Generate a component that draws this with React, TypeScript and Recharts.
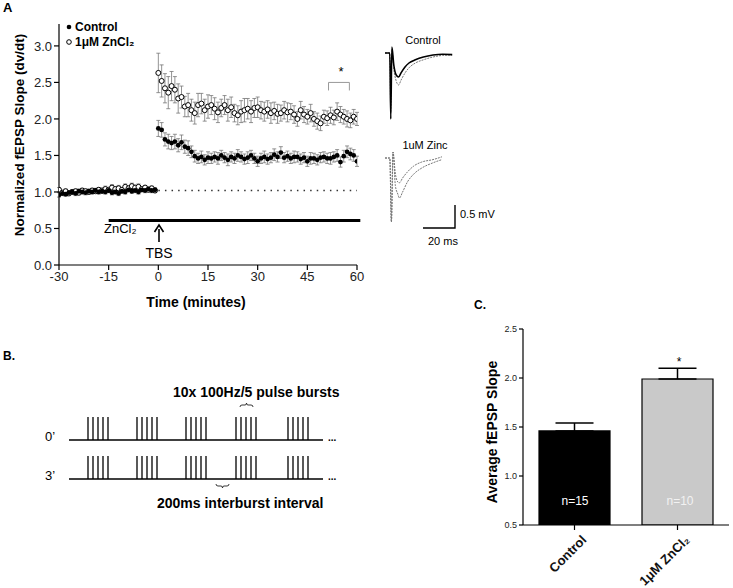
import {
  ScatterChart,
  Scatter,
  XAxis,
  YAxis,
  ErrorBar,
  ReferenceLine,
  LineChart,
  Line,
  BarChart,
  Bar,
  Cell,
} from "recharts";

const FONT = "'Liberation Sans', Arial, sans-serif";

// time in minutes, one sample per minute
const TIME = Array.from({ length: 91 }, (_, i) => i - 30);

const CTRL_MEAN = [
  0.96, 0.98, 0.97, 0.99, 1.0, 0.98, 1.01, 1.0, 0.99, 1.01,
  1.0, 1.02, 1.0, 1.01, 1.0, 1.02, 0.99, 1.0, 0.98, 1.01,
  1.0, 1.03, 1.01, 1.02, 1.0, 1.03, 1.02, 1.04, 1.02, 1.03,
  1.87, 1.85, 1.72, 1.69, 1.67, 1.69, 1.64, 1.68, 1.62, 1.6,
  1.55, 1.49, 1.46, 1.48, 1.44, 1.47, 1.46, 1.48, 1.46, 1.5,
  1.47, 1.44, 1.48, 1.46, 1.5, 1.48, 1.45, 1.47, 1.5, 1.46,
  1.42, 1.46, 1.48, 1.45, 1.47, 1.51, 1.48, 1.54, 1.47, 1.49,
  1.46, 1.48, 1.48, 1.45, 1.47, 1.42, 1.46, 1.46, 1.44, 1.47,
  1.48, 1.46, 1.46, 1.48, 1.5, 1.41, 1.49, 1.55, 1.52, 1.5,
  1.42,
];

const CTRL_ERR = [
  0.03, 0.03, 0.03, 0.03, 0.03, 0.03, 0.03, 0.03, 0.03, 0.03,
  0.03, 0.03, 0.03, 0.03, 0.03, 0.03, 0.03, 0.03, 0.03, 0.03,
  0.03, 0.03, 0.03, 0.03, 0.03, 0.03, 0.03, 0.03, 0.03, 0.03,
  0.11, 0.1, 0.09, 0.1, 0.09, 0.1, 0.09, 0.1, 0.09, 0.1,
  0.08, 0.08, 0.07, 0.08, 0.07, 0.08, 0.07, 0.07, 0.08, 0.07,
  0.07, 0.08, 0.07, 0.07, 0.08, 0.07, 0.07, 0.08, 0.07, 0.07,
  0.07, 0.07, 0.08, 0.07, 0.07, 0.08, 0.07, 0.08, 0.07, 0.07,
  0.07, 0.08, 0.07, 0.07, 0.07, 0.07, 0.08, 0.07, 0.07, 0.07,
  0.07, 0.07, 0.08, 0.07, 0.08, 0.07, 0.08, 0.08, 0.08, 0.08,
  0.07,
];

const ZN_MEAN = [
  1.03, 0.99, 1.01, 0.98, 1.0, 1.01, 0.99, 1.02, 1.01, 1.0,
  1.02, 1.01, 1.03, 1.02, 1.04, 1.03, 1.06, 1.04, 1.05, 1.03,
  1.07, 1.05, 1.08, 1.06, 1.07, 1.04, 1.06, 1.03, 1.05, 1.02,
  2.63, 2.52, 2.42, 2.36, 2.45, 2.4, 2.28, 2.3, 2.17, 2.19,
  2.12, 2.08, 2.19, 2.21, 2.12, 2.17, 2.19, 2.14, 2.09, 2.15,
  2.19, 2.12, 2.16, 2.08, 2.05, 2.1, 2.12, 2.14, 2.1, 2.15,
  2.16, 2.12, 2.1, 2.13, 2.08, 2.11, 2.07, 2.08, 2.12, 2.09,
  2.1, 2.06, 2.0, 2.12, 2.06, 2.03, 2.08, 2.0, 1.97, 1.94,
  2.03, 2.01, 2.05, 2.02, 2.1, 2.06, 2.03, 2.0, 1.98, 2.03,
  2.0,
];

const ZN_ERR = [
  0.03, 0.03, 0.03, 0.03, 0.03, 0.03, 0.03, 0.03, 0.03, 0.03,
  0.03, 0.03, 0.03, 0.03, 0.04, 0.03, 0.04, 0.03, 0.04, 0.03,
  0.04, 0.03, 0.04, 0.03, 0.04, 0.03, 0.03, 0.03, 0.03, 0.03,
  0.27, 0.22, 0.2, 0.22, 0.2, 0.18, 0.2, 0.15, 0.14, 0.16,
  0.15, 0.15, 0.16, 0.14, 0.15, 0.16, 0.13, 0.15, 0.14, 0.12,
  0.13, 0.15, 0.14, 0.12, 0.13, 0.15, 0.16, 0.14, 0.15, 0.13,
  0.14, 0.12, 0.13, 0.12, 0.14, 0.12, 0.13, 0.11, 0.12, 0.13,
  0.11, 0.12, 0.1, 0.12, 0.11, 0.1, 0.12, 0.1, 0.11, 0.1,
  0.09, 0.1, 0.11, 0.1, 0.12, 0.11, 0.1, 0.11, 0.1, 0.1,
  0.09,
];

const X_TICKS = [-30, -15, 0, 15, 30, 45, 60];
const Y_TICKS = [0, 0.5, 1.0, 1.5, 2.0, 2.5, 3.0];

// example traces (ms, mV)
const CTRL_TRACE_T = [0, 3, 3.6, 4.3, 5.5, 7, 8.5, 10, 12.5, 15, 19, 24, 30, 36, 42];
const CTRL_TRACE_BEFORE = [0, 0, -1.65, 0.15, -0.3, -0.55, -0.6, -0.5, -0.35, -0.25, -0.17, -0.1, -0.05, -0.03, -0.04];
const CTRL_TRACE_AFTER = [0, 0, -1.5, 0.1, -0.4, -0.7, -0.8, -0.68, -0.5, -0.37, -0.25, -0.17, -0.1, -0.06, -0.05];

const ZN_TRACE_T = [0, 3, 4, 5, 6.5, 8, 9, 11, 14, 18, 23, 30, 35.6];
const ZN_TRACE_BEFORE = [0, 0, -1.6, 0.15, -0.4, -0.6, -0.62, -0.5, -0.35, -0.2, -0.1, -0.04, 0.03];
const ZN_TRACE_AFTER = [0, 0, -1.6, 0.15, -0.7, -0.9, -1.0, -0.85, -0.6, -0.4, -0.25, -0.12, -0.04];

// panel C
const BAR_GROUPS = ["Control", "1μM ZnCl₂"];
const BAR_MEAN = [1.46, 1.99];
const BAR_SEM = [0.08, 0.11];
const BAR_N = ["n=15", "n=10"];
const BAR_FILL = ["#000000", "#c9c9c9"];
const BAR_TEXT = ["#ffffff", "#f2f2f2"];

// panel B
const BURST_X = [88, 137, 186, 236, 288];
const PULSE_GAP = 5;

const ctrlData = TIME.map((t, i) => ({ t, v: CTRL_MEAN[i], e: CTRL_ERR[i] }));
const znData = TIME.map((t, i) => ({ t, v: ZN_MEAN[i], e: ZN_ERR[i] }));
const ctrlTrace = CTRL_TRACE_T.map((t, i) => ({ t, a: CTRL_TRACE_BEFORE[i], b: CTRL_TRACE_AFTER[i] }));
const znTrace = ZN_TRACE_T.map((t, i) => ({ t, a: ZN_TRACE_BEFORE[i], b: ZN_TRACE_AFTER[i] }));
const barData = BAR_GROUPS.map((g, i) => ({ g, v: BAR_MEAN[i], err: [0, BAR_SEM[i]] }));

const OpenDot = (p: any) => (
  <circle cx={p.cx} cy={p.cy} r={2.5} fill="#fff" stroke="#000" strokeWidth={1} />
);
const FilledDot = (p: any) => <circle cx={p.cx} cy={p.cy} r={2.4} fill="#000" />;

const RotTick = ({ x, y, payload }: any) => {
  const ax = x + 6;
  const ay = y + 2;
  const txt = payload.value as string;
  return (
    <text
      x={ax}
      y={ay}
      transform={`rotate(-45 ${ax} ${ay})`}
      textAnchor="end"
      dominantBaseline="hanging"
      fontFamily={FONT}
      fontWeight="bold"
      fontSize={13}
      fill="#111"
    >
      {txt}
    </text>
  );
};

const Trace = ({ data, top, solidFirst }: { data: any[]; top: number; solidFirst: boolean }) => (
  <div style={{ position: "absolute", left: 385, top }}>
    <LineChart width={72} height={100} data={data} margin={{ top: 0, right: 0, bottom: 0, left: 0 }}>
      <XAxis dataKey="t" type="number" domain={[0, 45]} hide />
      <YAxis type="number" domain={[-2, 0.5]} hide />
      <Line
        dataKey="b"
        type="monotone"
        stroke="#777"
        strokeWidth={1}
        strokeDasharray="2 1"
        dot={false}
        isAnimationActive={false}
      />
      <Line
        dataKey="a"
        type="monotone"
        stroke={solidFirst ? "#000" : "#777"}
        strokeWidth={solidFirst ? 1.6 : 1}
        strokeDasharray={solidFirst ? undefined : "2 1"}
        dot={false}
        isAnimationActive={false}
      />
    </LineChart>
  </div>
);

const Brace = ({ x, y, w, down }: { x: number; y: number; w: number; down?: boolean }) => {
  const s = down ? 1 : -1;
  const m = x + w / 2;
  return (
    <path
      d={`M${x},${y} q0,${s * 2} 2,${s * 2} H${m - 1.5} q1.5,0 1.5,${s * 2} q0,${-s * 2} 1.5,${-s * 2} H${x + w - 2} q2,0 2,${-s * 2}`}
      fill="none"
      stroke="#222"
      strokeWidth={0.9}
    />
  );
};

export default function App() {
  const tickStyle = { fontFamily: FONT, fontSize: 13, fill: "#222" };
  return (
    <div style={{ position: "absolute", left: 0, top: 0, width: 733, height: 588, background: "#fff" }}>
      {/* Panel A time course */}
      <div style={{ position: "absolute", left: 0, top: 0 }}>
        <ScatterChart width={380} height={310} margin={{ top: 24, right: 23, bottom: 15, left: 29 }}>
          <XAxis
            dataKey="t"
            type="number"
            domain={[-30, 60]}
            ticks={X_TICKS}
            tick={tickStyle}
            tickSize={5}
            height={30}
            stroke="#000"
            strokeWidth={1.2}
            allowDataOverflow
          />
          <YAxis
            dataKey="v"
            type="number"
            domain={[0, 3.3]}
            ticks={Y_TICKS}
            tickFormatter={(v: number) => v.toFixed(1)}
            tick={tickStyle}
            tickSize={5}
            width={30}
            stroke="#000"
            strokeWidth={1.2}
            allowDataOverflow
          />
          <ReferenceLine
            segment={[{ x: 0, y: 1.02 }, { x: 60, y: 1.02 }]}
            stroke="#333"
            strokeWidth={1.6}
            strokeDasharray="1.5 5.1"
          />
          <ReferenceLine
            segment={[{ x: -15, y: 0.61 }, { x: 61, y: 0.61 }]}
            stroke="#000"
            strokeWidth={3}
            ifOverflow="visible"
          />
          <ReferenceLine segment={[{ x: 51.4, y: 2.39 }, { x: 51.4, y: 2.5 }]} stroke="#999" strokeWidth={1} />
          <ReferenceLine segment={[{ x: 51.4, y: 2.5 }, { x: 57.7, y: 2.5 }]} stroke="#999" strokeWidth={1} />
          <ReferenceLine segment={[{ x: 57.7, y: 2.5 }, { x: 57.7, y: 2.39 }]} stroke="#999" strokeWidth={1} />
          <Scatter data={znData} shape={OpenDot} isAnimationActive={false}>
            <ErrorBar dataKey="e" direction="y" width={2} stroke="#777" strokeWidth={0.8} isAnimationActive={false} />
          </Scatter>
          <Scatter data={ctrlData} shape={FilledDot} isAnimationActive={false}>
            <ErrorBar dataKey="e" direction="y" width={2} stroke="#777" strokeWidth={0.8} isAnimationActive={false} />
          </Scatter>
        </ScatterChart>
      </div>

      {/* Example traces */}
      <Trace data={ctrlTrace} top={33} solidFirst />
      <Trace data={znTrace} top={138} solidFirst={false} />

      {/* Panel C bar chart */}
      <div style={{ position: "absolute", left: 460, top: 280 }}>
        <BarChart
          width={273}
          height={308}
          data={barData}
          margin={{ top: 49, right: 4, bottom: 3, left: 33 }}
          barCategoryGap={16}
        >
          <XAxis
            dataKey="g"
            tick={<RotTick />}
            tickSize={5}
            height={60}
            stroke="#000"
            strokeWidth={1.2}
            interval={0}
          />
          <YAxis
            type="number"
            domain={[0.5, 2.5]}
            ticks={[0.5, 1.0, 1.5, 2.0, 2.5]}
            tickFormatter={(v: number) => v.toFixed(1)}
            tick={{ fontFamily: FONT, fontSize: 9, fill: "#222" }}
            tickSize={4}
            width={30}
            stroke="#000"
            strokeWidth={1.2}
            allowDataOverflow
          />
          <Bar dataKey="v" stroke="#000" strokeWidth={1.2} isAnimationActive={false}>
            {barData.map((_, i) => (
              <Cell key={i} fill={BAR_FILL[i]} />
            ))}
            <ErrorBar dataKey="err" direction="y" width={19} stroke="#000" strokeWidth={1.5} isAnimationActive={false} />
          </Bar>
        </BarChart>
      </div>

      {/* Texts and schematic */}
      <svg
        width={733}
        height={588}
        style={{ position: "absolute", left: 0, top: 0, pointerEvents: "none" }}
        fontFamily={FONT}
      >
        {/* Panel A */}
        <text x={3} y={12} fontSize={13} fontWeight="bold">A</text>
        <circle cx={69} cy={27} r={2.3} fill="#000" />
        <text x={75} y={31} fontSize={12} fontWeight="bold">Control</text>
        <circle cx={69} cy={42} r={2.3} fill="#fff" stroke="#000" strokeWidth={1} />
        <text x={75} y={46} fontSize={12} fontWeight="bold">1μM ZnCl₂</text>
        <text
          x={19}
          y={135}
          transform="rotate(-90 19 135)"
          textAnchor="middle"
          dominantBaseline="central"
          fontSize={13.5}
          fontWeight="bold"
        >
          Normalized fEPSP Slope (dv/dt)
        </text>
        <text x={196} y={307} textAnchor="middle" fontSize={14} fontWeight="bold">
          Time (minutes)
        </text>
        <text x={341} y={76} textAnchor="middle" fontSize={13}>*</text>
        <text x={104} y={233} fontSize={13}>ZnCl₂</text>
        <line x1={159} y1={242} x2={159} y2={229} stroke="#000" strokeWidth={1.6} />
        <path d="M154.5,232 L159,225 L163.5,232" fill="none" stroke="#000" strokeWidth={1.6} />
        <text x={159} y={258} textAnchor="middle" fontSize={14}>TBS</text>

        {/* Traces labels and scale */}
        <text x={423} y={44} textAnchor="middle" fontSize={11}>Control</text>
        <text x={425} y={149} textAnchor="middle" fontSize={11}>1uM Zinc</text>
        <path d="M455,205 V228 H423" fill="none" stroke="#000" strokeWidth={1.4} />
        <text x={460} y={218} fontSize={11}>0.5 mV</text>
        <text x={428} y={245} fontSize={11}>20 ms</text>

        {/* Panel B */}
        <text x={3} y={360} fontSize={12} fontWeight="bold">B.</text>
        <text x={173} y={397} fontSize={14} fontWeight="bold">10x 100Hz/5 pulse bursts</text>
        <Brace x={240} y={407} w={13} />
        {[440, 479].map((yb, r) => (
          <g key={r}>
            <line x1={69} y1={yb} x2={323} y2={yb} stroke="#000" strokeWidth={1.5} />
            {BURST_X.map((bx) =>
              [0, 1, 2, 3, 4].map((k) => (
                <line
                  key={`${bx}-${k}`}
                  x1={bx + k * PULSE_GAP}
                  y1={yb}
                  x2={bx + k * PULSE_GAP}
                  y2={yb - 23}
                  stroke="#000"
                  strokeWidth={1.3}
                />
              ))
            )}
            <text x={328} y={yb + 1} fontSize={10} fontWeight="bold">...</text>
            <text x={45} y={yb + 1} fontSize={13}>{r === 0 ? "0’" : "3’"}</text>
          </g>
        ))}
        <Brace x={216} y={484} w={13} down />
        <text x={157} y={508} fontSize={14} fontWeight="bold">200ms interburst interval</text>

        {/* Panel C */}
        <text x={474} y={309} fontSize={12} fontWeight="bold">C.</text>
        <text
          x={492}
          y={432}
          transform="rotate(-90 492 432)"
          textAnchor="middle"
          dominantBaseline="central"
          fontSize={14}
          fontWeight="bold"
        >
          Average fEPSP Slope
        </text>
        <text x={679} y={366} textAnchor="middle" fontSize={12}>*</text>
        <text x={575} y={505} textAnchor="middle" fontSize={12} fill={BAR_TEXT[0]}>{BAR_N[0]}</text>
        <text x={680} y={505} textAnchor="middle" fontSize={12} fill={BAR_TEXT[1]}>{BAR_N[1]}</text>
      </svg>
    </div>
  );
}
